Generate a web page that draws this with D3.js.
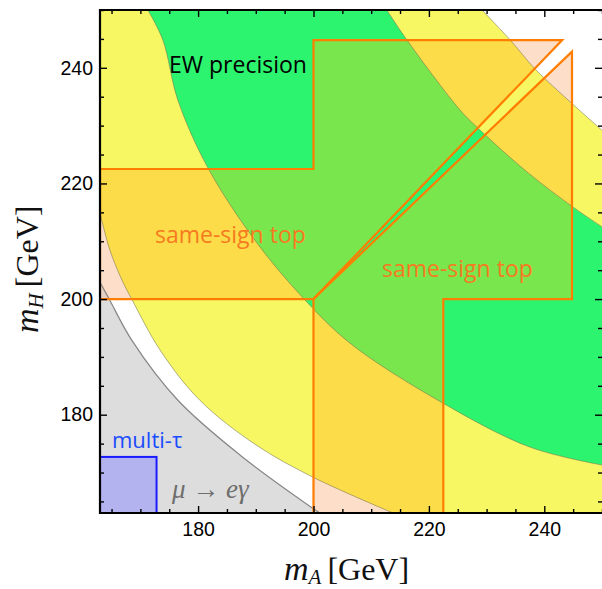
<!DOCTYPE html>
<html><head><meta charset="utf-8">
<script src="https://cdn.jsdelivr.net/npm/d3@7"></script>
<style>body{margin:0;background:#fff}</style>
</head><body><svg id="c" width="602" height="589"></svg>
<script>
// ---- data (GeV) ----
const mADomain = [163, 250];
const mHDomain = [163, 250];
const curveMuEGamma    = [[163,202.9],[164.7,199.8],[168.5,192.9],[176.5,182.5],[187.3,173.0],[199.9,163.8],[201.1,163]];
const curveYellowOuter = [[163,214.9],[164.7,208.5],[166.8,203.3],[168.6,199.8],[173.4,191.2],[180.3,182.5],[190.0,174.8],[199.9,169.2],[213.8,163]];
const curveGreenOuter  = [[171.3,250],[173.9,244.8],[176.5,234.4],[181.7,222.7],[189.9,210.1],[198.2,200.2],[206.3,192.4],[221.4,182.6],[237.5,174.4],[250,171.3]];
const curveGreenInner  = [[212.7,250],[216.2,244.8],[225.4,232.7],[228.9,229.2],[237.0,222.0],[245.0,215.9],[250,212.5]];
const curveYellowInner = [[229.2,250],[234.1,244.8],[238.4,239.8],[244.5,234.1],[250,229.2]];
const sameSignTopA = [[163,200],[163,222.5],[200,222.5],[200,244.8],[243.1,244.8],[200,200]];
const sameSignTopB = [[200,163],[222.5,163],[222.5,200],[244.8,200],[244.8,242.8],[200,200]];
const multiTauBox = [[163,163],[172.8,172.7]];
const majorTicks = [180, 200, 220, 240];
const minorTicks = [165,170,175,185,190,195,205,210,215,225,230,235,245,250];
const labels = {ew:"EW precision", sst:"same-sign top", tau:"multi-τ"};

// ---- layout ----
const L = 100, R = 602, T = 10, B = 513;
const x = d3.scaleLinear().domain(mADomain).range([L, R]);
const y = d3.scaleLinear().domain(mHDomain).range([B, T]);
const svg = d3.select("#c");
const defs = svg.append("defs");
defs.append("clipPath").attr("id","plot").append("rect")
  .attr("x",L).attr("y",T).attr("width",R-L).attr("height",B-T);
const ssClip = defs.append("clipPath").attr("id","ss");
const poly = d3.line().x(d=>x(d[0])).y(d=>y(d[1]));
[sameSignTopA, sameSignTopB].forEach(p => ssClip.append("path").attr("d", poly(p)+"Z"));

const cline = d3.line().x(d=>x(d[0])).y(d=>y(d[1])).curve(d3.curveCatmullRom.alpha(0.5));
function belowPath(pts){
  const f = pts[0], l = pts[pts.length-1];
  const lo = mADomain[0];
  return cline(pts) + "L" + x(l[0]) + "," + y(lo) + "L" + x(lo) + "," + y(lo) + "L" + x(lo) + "," + y(f[1]) + "Z";
}
const curves = [curveYellowInner, curveGreenInner, curveGreenOuter, curveYellowOuter, curveMuEGamma];
function drawBands(g, bg, cols){
  g.append("rect").attr("x",L).attr("y",T).attr("width",R-L).attr("height",B-T).attr("fill",bg);
  curves.forEach((c,i)=> g.append("path").attr("d", belowPath(c)).attr("fill", cols[i]));
}
const base = svg.append("g").attr("clip-path","url(#plot)");
drawBands(base, "#ffffff", ["#f7f764","#2cf46f","#f7f764","#ffffff","#dddddd"]);
const over = base.append("g").attr("clip-path","url(#ss)");
drawBands(over, "#fddfc9", ["#fcdc48","#7ae64e","#fcdc48","#fddfc9","#e6d2c4"]);

// boundary lines
curves.forEach((c,i)=> base.append("path").attr("d", cline(c)).attr("fill","none")
  .attr("stroke", i===4 ? "#7a7a7a" : "#6f6f50").attr("stroke-opacity", i===4 ? 0.9 : 0.6)
  .attr("stroke-width", i===4 ? 1.2 : 0.9));

// same-sign top outlines
[sameSignTopA, sameSignTopB].forEach(p => base.append("path").attr("d", poly(p)+"Z")
  .attr("fill","none").attr("stroke","#ff7d00").attr("stroke-width",2.2).attr("stroke-linejoin","miter"));

// multi-tau box
base.append("rect")
  .attr("x", x(multiTauBox[0][0])).attr("y", y(multiTauBox[1][1]))
  .attr("width", x(multiTauBox[1][0]) - x(multiTauBox[0][0]))
  .attr("height", y(multiTauBox[0][1]) - y(multiTauBox[1][1]))
  .attr("fill","#b3b3ef").attr("stroke","#1a1aff").attr("stroke-width",2);

// text labels
const sans = "'Open Sans', sans-serif";
svg.append("text").attr("x",169).attr("y",73).attr("font-family",sans).attr("font-size",23).attr("fill","#000").text(labels.ew);
svg.append("text").attr("x",155).attr("y",243).attr("font-family",sans).attr("font-size",23).attr("fill","#f67a20").text(labels.sst);
svg.append("text").attr("x",382).attr("y",277).attr("font-family",sans).attr("font-size",23).attr("fill","#f67a20").text(labels.sst);
svg.append("text").attr("x",112).attr("y",448).attr("font-family",sans).attr("font-size",22).attr("fill","#1a4cff").text(labels.tau);
const mu = svg.append("text").attr("x",172).attr("y",498).attr("font-family","'Liberation Serif', serif").attr("font-size",27).attr("fill","#6e6e6e");
mu.append("tspan").attr("font-style","italic").text("μ");
mu.append("tspan").text(" → ");
mu.append("tspan").attr("font-style","italic").text("eγ");

// axes
function styleAxis(g){ g.select(".domain").remove(); g.selectAll(".tick line").attr("stroke","#000").attr("stroke-width",1.4);
  g.selectAll("text").attr("font-family","'Liberation Sans', Arial, sans-serif").attr("font-size",19.5).attr("fill","#000"); }
svg.append("g").attr("transform",`translate(0,${B})`).call(d3.axisBottom(x).tickValues(majorTicks).tickSize(-7).tickPadding(9)).call(styleAxis);
svg.append("g").attr("transform",`translate(0,${B})`).call(d3.axisBottom(x).tickValues(minorTicks).tickSize(-4).tickFormat("")).call(styleAxis);
svg.append("g").attr("transform",`translate(0,${T})`).call(d3.axisTop(x).tickValues(majorTicks).tickSize(-7).tickFormat("")).call(styleAxis);
svg.append("g").attr("transform",`translate(0,${T})`).call(d3.axisTop(x).tickValues(minorTicks).tickSize(-4).tickFormat("")).call(styleAxis);
svg.append("g").attr("transform",`translate(${L},0)`).call(d3.axisLeft(y).tickValues(majorTicks).tickSize(-7).tickPadding(7)).call(styleAxis);
svg.append("g").attr("transform",`translate(${L},0)`).call(d3.axisLeft(y).tickValues(minorTicks).tickSize(-4).tickFormat("")).call(styleAxis);
svg.append("g").attr("transform",`translate(${R},0)`).call(d3.axisRight(y).tickValues(majorTicks).tickSize(-7).tickFormat("")).call(styleAxis);
svg.append("g").attr("transform",`translate(${R},0)`).call(d3.axisRight(y).tickValues(minorTicks).tickSize(-4).tickFormat("")).call(styleAxis);

// frame
svg.append("path").attr("d",`M${R},${T}H${L}V${B}H${R}`).attr("fill","none").attr("stroke","#000").attr("stroke-width",2.2);

// axis titles
const serif = "'Liberation Serif', 'Times New Roman', serif";
const xt = svg.append("text").attr("x",284).attr("y",580).attr("font-family",serif).attr("font-size",32).attr("fill","#111");
xt.append("tspan").attr("font-style","italic").attr("font-size",34).text("m");
xt.append("tspan").attr("font-style","italic").attr("font-size",21).attr("dy",4).text("A");
xt.append("tspan").attr("dy",-4).attr("dx",6).text("[GeV]");
const yt = svg.append("text").attr("transform","translate(38,333) rotate(-90)").attr("font-family",serif).attr("font-size",32).attr("fill","#111");
yt.append("tspan").attr("font-style","italic").attr("font-size",34).text("m");
yt.append("tspan").attr("font-style","italic").attr("font-size",21).attr("dy",5).text("H");
yt.append("tspan").attr("dy",-5).attr("dx",6).text("[GeV]");
</script></body></html>
